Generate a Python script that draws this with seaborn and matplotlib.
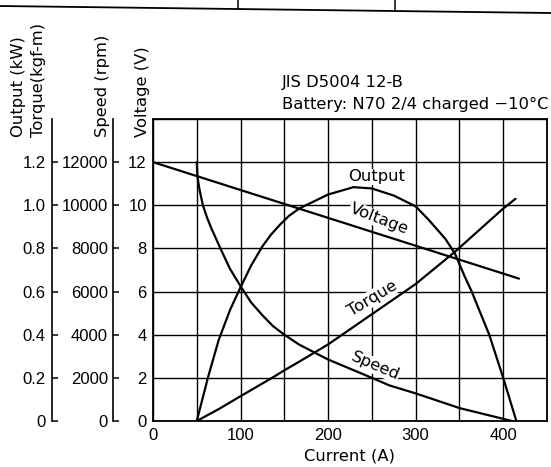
import numpy as np
import pandas as pd
import matplotlib
matplotlib.use("Agg")
import matplotlib.pyplot as plt
from matplotlib.lines import Line2D
import seaborn as sns

# Starter motor characteristics against current (A)
voltage_current = [0, 418]
voltage_v = [12.0, 6.6]

output_current = [50, 63, 75, 88, 100, 112, 125, 135, 145, 155, 167, 200, 229,
                  250, 275, 300, 315, 334, 345, 356, 364, 384, 400, 415]
output_kw = [0.0, 0.205, 0.375, 0.515, 0.62, 0.72, 0.81, 0.865, 0.91, 0.95,
             0.985, 1.05, 1.084, 1.078, 1.045, 0.995, 0.932, 0.844, 0.775,
             0.67, 0.60, 0.40, 0.20, 0.0]

torque_current = [50, 75, 100, 136, 150, 167, 200, 250, 300, 345, 400, 414]
torque_kgfm = [0.0, 0.055, 0.115, 0.20, 0.235, 0.275, 0.355, 0.495, 0.635,
               0.785, 0.985, 1.03]

speed_current = [50, 50.7, 53, 57, 62, 67, 77, 88, 100, 112, 125, 137, 150,
                 167, 200, 250, 270, 300, 350, 400, 410]
speed_rpm = [12000, 11350, 10750, 10000, 9400, 8900, 8000, 7050, 6250, 5500,
             4900, 4400, 4000, 3540, 2850, 2000, 1650, 1280, 600, 100, 0]

x_ticks = [0, 100, 200, 300, 400]
volt_ticks = [0, 2, 4, 6, 8, 10, 12]
kw_ticks = [0, 0.2, 0.4, 0.6, 0.8, 1.0, 1.2]
kw_tick_labels = ["0", "0.2", "0.4", "0.6", "0.8", "1.0", "1.2"]
rpm_ticks = [0, 2000, 4000, 6000, 8000, 10000, 12000]

sns.set_theme(style="white")
plt.rcParams["font.family"] = ["Liberation Sans", "DejaVu Sans"]
plt.rcParams["font.size"] = 12
plt.rcParams["text.color"] = "black"
plt.rcParams["axes.labelcolor"] = "black"
plt.rcParams["xtick.color"] = "black"
plt.rcParams["ytick.color"] = "black"

# wider face for the words
word_font = dict(family=["DejaVu Sans"], size=11.8)

W, H = 551, 467
fig = plt.figure(figsize=(W / 100, H / 100), dpi=100)
fig.patch.set_facecolor("white")

# main plot area (voltage scale)
ax = fig.add_axes([153 / W, 1 - 421 / H, 394 / W, 302 / H])
ax.set_facecolor("white")

# torque / output scale, spine pushed out to the left
ax_t = ax.twinx()
# speed scale, spine between the two
ax_s = ax.twinx()

line_kw = dict(color="black", linewidth=1.6, sort=False, legend=False)

volt_df = pd.DataFrame({"Current (A)": voltage_current, "Voltage": voltage_v})
out_df = pd.DataFrame({"Current (A)": output_current, "Output": output_kw})
trq_df = pd.DataFrame({"Current (A)": torque_current, "Torque": torque_kgfm})
spd_df = pd.DataFrame({"Current (A)": speed_current, "Speed": speed_rpm})

sns.lineplot(data=volt_df, x="Current (A)", y="Voltage", ax=ax, **line_kw)
sns.lineplot(data=out_df, x="Current (A)", y="Output", ax=ax_t, **line_kw)
sns.lineplot(data=trq_df, x="Current (A)", y="Torque", ax=ax_t, **line_kw)
sns.lineplot(data=spd_df, x="Current (A)", y="Speed", ax=ax_s, **line_kw)

# main axes: grid every 50 A and every 2 V
ax.set_xlim(0, 450)
ax.set_ylim(0, 14)
ax.set_xticks(x_ticks)
ax.set_xticks(np.arange(50, 451, 100), minor=True)
ax.set_yticks(volt_ticks + [14])
ax.set_yticklabels([str(v) for v in volt_ticks] + [""])
ax.grid(True, which="both", color="black", linewidth=1.0)
ax.tick_params(axis="both", which="both", length=0, labelsize=12)
ax.tick_params(axis="x", pad=5)
ax.tick_params(axis="y", pad=4.5)
for s in ax.spines.values():
    s.set_visible(True)
    s.set_color("black")
    s.set_linewidth(1.3)
ax.set_xlabel("Current (A)", labelpad=4, **word_font)
ax.set_ylabel("Voltage (V)", **word_font)

for a, off, lim, ticks, labels, pad in [
    (ax_t, 101, (0, 1.4), kw_ticks, kw_tick_labels, 4.6),
    (ax_s, 40, (0, 14000), rpm_ticks, [str(t) for t in rpm_ticks], 3.6),
]:
    a.set_ylim(*lim)
    a.set_yticks(ticks)
    a.set_yticklabels(labels)
    a.yaxis.tick_left()
    a.yaxis.set_label_position("left")
    for s in ["top", "right", "bottom"]:
        a.spines[s].set_visible(False)
    a.spines["left"].set_visible(True)
    a.spines["left"].set_color("black")
    a.spines["left"].set_linewidth(1.2)
    a.spines["left"].set_position(("outward", off * 0.72))
    a.tick_params(axis="y", direction="in", length=4, width=1.1,
                  pad=pad, labelsize=12)
    a.grid(False)
    a.set_xlabel("")

ax_t.set_ylabel("Output (kW)\nTorque(kgf-m)", linespacing=1.4,
                multialignment="left", **word_font)
ax_s.set_ylabel("Speed (rpm)", **word_font)

label_y = (421 - 137) / 302
for a, px in [(ax_t, 28.5), (ax_s, 102), (ax, 142)]:
    lab = a.yaxis.label
    lab.set_rotation(90)
    lab.set_rotation_mode("default")
    lab.set_ha("center")
    lab.set_va("bottom")
    a.yaxis.set_label_coords((px - 153) / 394, label_y)

ax.set_xlim(0, 450)

# curve names
bbox = dict(facecolor="white", edgecolor="none", pad=0.5)
for txt, x, y, rot in [("Output", 255.5, 11.32, 0), ("Voltage", 258, 9.36, -21),
                       ("Torque", 250.5, 5.69, 31), ("Speed", 253.5, 2.55, -23)]:
    ax.text(x, y, txt, rotation=rot, rotation_mode="anchor", ha="center",
            va="center", bbox=bbox, zorder=3, **word_font)

# test conditions
fig.text(282 / W, 1 - 87 / H, "JIS D5004 12-B", va="baseline", **word_font)
fig.text(282 / W, 1 - 109 / H, "Battery: N70 2/4 charged \u221210\u00b0C",
         va="baseline", **word_font)

# rule along the top edge
fig.add_artist(Line2D([0, 1], [1 - 6 / H, 1 - 13 / H], transform=fig.transFigure,
                      color="black", linewidth=1.3))
for px in [238, 395]:
    yb = 1 - (6 + 7 * px / W) / H
    fig.add_artist(Line2D([px / W, px / W], [yb, 1.0],
                          transform=fig.transFigure, color="black", linewidth=1.1))

fig.savefig("out.png", dpi=100, facecolor="white")
